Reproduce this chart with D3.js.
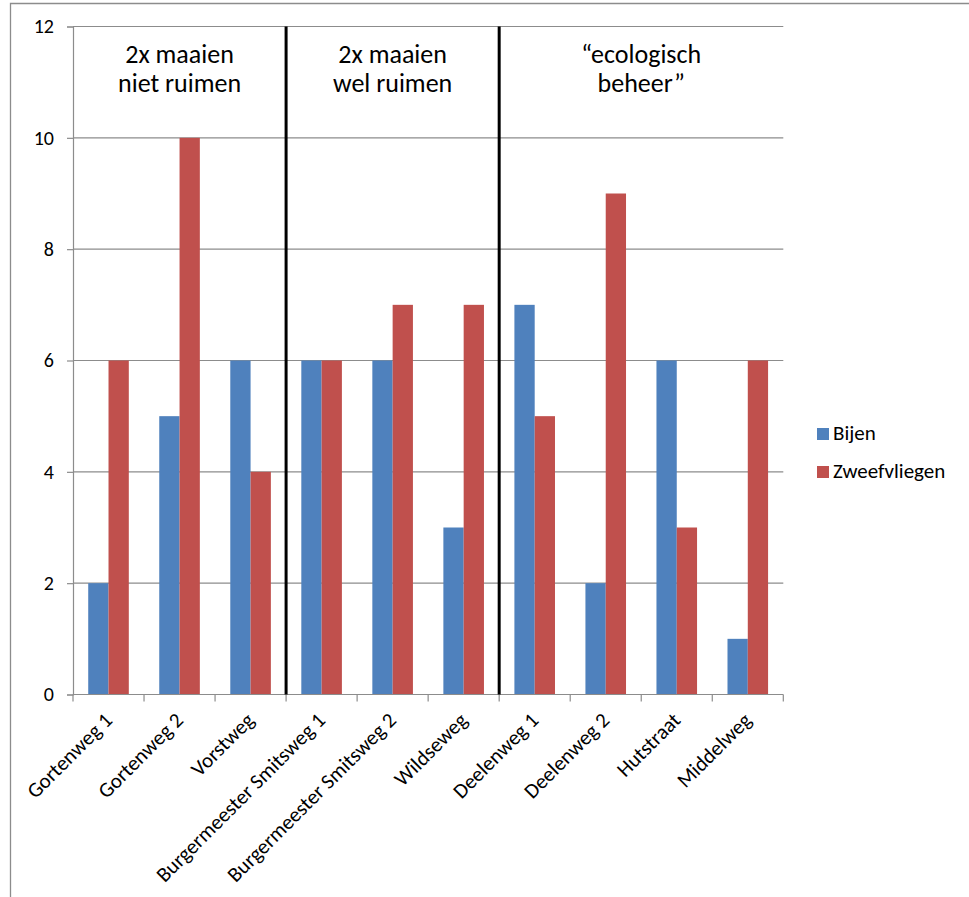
<!DOCTYPE html>
<html>
<head>
<meta charset="utf-8">
<script src="https://cdn.jsdelivr.net/npm/d3@7"></script>
<style>
  html, body { margin: 0; padding: 0; background: #fff; }
  svg { display: block; }
  text { font-family: Carlito, Calibri, Lato, "Open Sans", sans-serif; fill: #000; }
</style>
</head>
<body>
<svg id="chart" width="969" height="897"></svg>
<script>
// Survey sites, grouped by mowing regime
const categories = ["Gortenweg 1", "Gortenweg 2", "Vorstweg", "Burgermeester Smitsweg 1",
  "Burgermeester Smitsweg 2", "Wildseweg", "Deelenweg 1", "Deelenweg 2", "Hutstraat", "Middelweg"];
const seriesNames = ["Bijen", "Zweefvliegen"];
const bijen = [2, 5, 6, 6, 6, 3, 7, 2, 6, 1];
const zweefvliegen = [6, 10, 4, 6, 7, 7, 5, 9, 3, 6];
const yTicks = [0, 2, 4, 6, 8, 10, 12];
const groups = [
  { from: 0, to: 3, lines: ["2x maaien", "niet ruimen"] },
  { from: 3, to: 6, lines: ["2x maaien", "wel ruimen"] },
  { from: 6, to: 10, lines: ["\u201cecologisch", "beheer\u201d"] }
];
const colors = ["#4F81BD", "#C0504D"];

const svg = d3.select("#chart");
const plot = { left: 73, right: 783.3, top: 26.5, bottom: 694.5 };

// Outer chart frame
svg.append("path")
  .attr("d", `M10.5,900 V3.5 H975`)
  .attr("fill", "none").attr("stroke", "#8c8c8c").attr("stroke-width", 1.3);

const x = d3.scaleBand().domain(categories).range([plot.left, plot.right]).paddingInner(0).paddingOuter(0);
const bw = x.bandwidth() / 3.5;
const xs = d3.scaleBand().domain(seriesNames).range([0.75 * bw, 2.75 * bw]);
const y = d3.scaleLinear().domain([0, 12]).range([plot.bottom, plot.top]);

// Horizontal gridlines
svg.append("g").selectAll("line").data(yTicks.filter(t => t > 0)).join("line")
  .attr("x1", plot.left).attr("x2", plot.right)
  .attr("y1", d => y(d)).attr("y2", d => y(d))
  .attr("stroke", "#8c8c8c").attr("stroke-width", 1.2);

// Y axis
const yAxis = svg.append("g").attr("transform", `translate(${plot.left},0)`)
  .call(d3.axisLeft(y).tickValues(yTicks).tickSize(6).tickPadding(13));
yAxis.attr("font-size", null).attr("font-family", null);
yAxis.select(".domain").attr("stroke", "#8c8c8c").attr("stroke-width", 1.2);
yAxis.selectAll(".tick line").attr("stroke", "#8c8c8c").attr("stroke-width", 1.2);
yAxis.selectAll(".tick text").style("font-size", "20px");

// Bars
const data = categories.map((c, i) => ({ c, vals: [bijen[i], zweefvliegen[i]] }));
const g = svg.append("g").selectAll("g").data(data).join("g")
  .attr("transform", d => `translate(${x(d.c)},0)`);
g.selectAll("rect").data(d => d.vals.map((v, k) => ({ v, k }))).join("rect")
  .attr("x", d => xs(seriesNames[d.k]))
  .attr("width", xs.bandwidth())
  .attr("y", d => y(d.v))
  .attr("height", d => y(0) - y(d.v))
  .attr("fill", d => colors[d.k]);

// X axis with boundary ticks
const xAxisG = svg.append("g").attr("transform", `translate(0,${plot.bottom})`);
xAxisG.append("line").attr("x1", plot.left).attr("x2", plot.right)
  .attr("stroke", "#8c8c8c").attr("stroke-width", 1.2);
const bounds = d3.range(categories.length + 1).map(i => plot.left + i * x.bandwidth());
xAxisG.selectAll("line.tk").data(bounds).join("line").attr("class", "tk")
  .attr("x1", d => d).attr("x2", d => d).attr("y1", 0).attr("y2", 7)
  .attr("stroke", "#8c8c8c").attr("stroke-width", 1.2);
xAxisG.selectAll("text").data(categories).join("text")
  .attr("transform", d => `translate(${x(d) + x.bandwidth() / 2 + 5},${27}) rotate(-45)`)
  .attr("text-anchor", "end")
  .style("font-size", "21px")
  .text(d => d);

// Group separators
svg.append("g").selectAll("line").data(groups.slice(1)).join("line")
  .attr("x1", d => plot.left + d.from * x.bandwidth())
  .attr("x2", d => plot.left + d.from * x.bandwidth())
  .attr("y1", plot.top).attr("y2", plot.bottom)
  .attr("stroke", "#000").attr("stroke-width", 3);

// Group labels
const gl = svg.append("g").selectAll("text").data(groups).join("text")
  .attr("text-anchor", "middle")
  .style("font-size", "26px");
gl.each(function(d) {
  const cx = plot.left + (d.from + d.to) / 2 * x.bandwidth();
  d3.select(this).selectAll("tspan").data(d.lines).join("tspan")
    .attr("x", cx).attr("y", (t, i) => 63 + i * 29).text(t => t);
});

// Legend
const lg = svg.append("g").selectAll("g").data(seriesNames).join("g")
  .attr("transform", (d, i) => `translate(817,${428 + i * 38})`);
lg.append("rect").attr("width", 12).attr("height", 12).attr("fill", (d, i) => colors[i]);
lg.append("text").attr("x", 16).attr("y", 12).style("font-size", "21px").text(d => d);
</script>
</body>
</html>
